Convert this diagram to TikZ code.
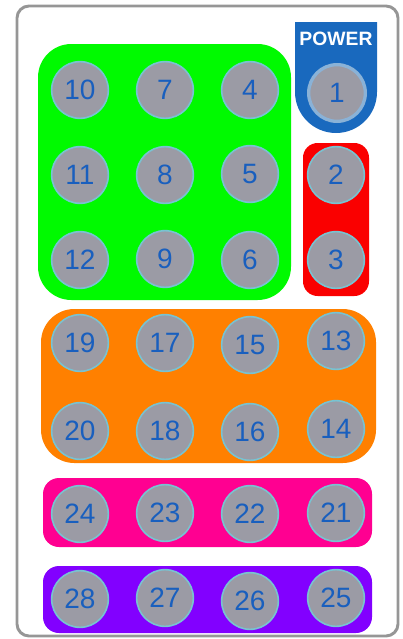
\documentclass[tikz,border=0pt]{standalone}
\usepackage{fontspec}
\setmainfont{Liberation Sans}
\definecolor{framegray}{RGB}{150,150,150}
\definecolor{keygreen}{RGB}{0,250,0}
\definecolor{keyred}{RGB}{250,0,0}
\definecolor{keyorange}{RGB}{255,128,0}
\definecolor{keypink}{RGB}{255,0,145}
\definecolor{keypurple}{RGB}{130,0,255}
\definecolor{shieldblue}{RGB}{25,105,190}
\definecolor{btngray}{RGB}{155,155,165}
\definecolor{btnrim}{RGB}{120,195,210}
\definecolor{numblue}{RGB}{25,95,190}

\begin{document}
\begin{tikzpicture}[
        x=0.75pt, y=-0.75pt,
        panel/.style={rounded corners=25pt},
        btn/.style={circle, fill=btngray, draw=btnrim, line width=1.2pt, minimum size=42.5pt, inner sep=0pt,
                    text=numblue, font=\fontsize{21}{21}\selectfont},
        pwrbtn/.style={btn, draw=cyan!30!shieldblue!55, line width=2.5pt}
        ]
        \useasboundingbox (0,0) rectangle (403,639);
        % casing
        \draw[framegray, line width=2.2pt, rounded corners=9pt] (17,6) rectangle (398,636);
        % coloured panels
        \fill[keygreen, panel] (38,44) rectangle (291,300);
        \fill[keyred, rounded corners=11pt] (303,143) rectangle (369,296);
        \fill[keyorange, panel] (41,309) rectangle (376,463);
        \fill[keypink, rounded corners=12pt] (43,478) rectangle (372,547);
        \fill[keypurple, rounded corners=12pt] (43,566) rectangle (372,633);
        % power shield
        \fill[shieldblue] (295,22) -- (377,22) -- (377,92) arc[start angle=0, end angle=-180, radius=30.75pt] -- cycle;
        \node[text=white, font=\bfseries\fontsize{14.5}{14.5}\selectfont] (pwr) at (336,39) {POWER};
        \node[pwrbtn] (b1) at (337,93) {1};
        % green block
        \node[btn] (b10) at (80,90) {10};
        \node[btn] (b7)  at (165,90) {7};
        \node[btn] (b4)  at (250,90) {4};
        \node[btn] (b11) at (80,175) {11};
        \node[btn] (b8)  at (165,175) {8};
        \node[btn] (b5)  at (250,174) {5};
        \node[btn] (b12) at (80,260) {12};
        \node[btn] (b9)  at (165,259) {9};
        \node[btn] (b6)  at (250,260) {6};
        % red block
        \node[btn] (b2)  at (336,175) {2};
        \node[btn] (b3)  at (336,260) {3};
        % orange block
        \node[btn] (b19) at (80,343) {19};
        \node[btn] (b17) at (165,343) {17};
        \node[btn] (b15) at (250,345) {15};
        \node[btn] (b13) at (336,341) {13};
        \node[btn] (b20) at (80,431) {20};
        \node[btn] (b18) at (165,431) {18};
        \node[btn] (b16) at (250,432) {16};
        \node[btn] (b14) at (336,429) {14};
        % pink block
        \node[btn] (b24) at (80,514) {24};
        \node[btn] (b23) at (165,513) {23};
        \node[btn] (b22) at (250,514) {22};
        \node[btn] (b21) at (336,513) {21};
        % purple block
        \node[btn] (b28) at (80,599) {28};
        \node[btn] (b27) at (165,598) {27};
        \node[btn] (b26) at (250,601) {26};
        \node[btn] (b25) at (336,598) {25};
    \end{tikzpicture}
\end{document}
